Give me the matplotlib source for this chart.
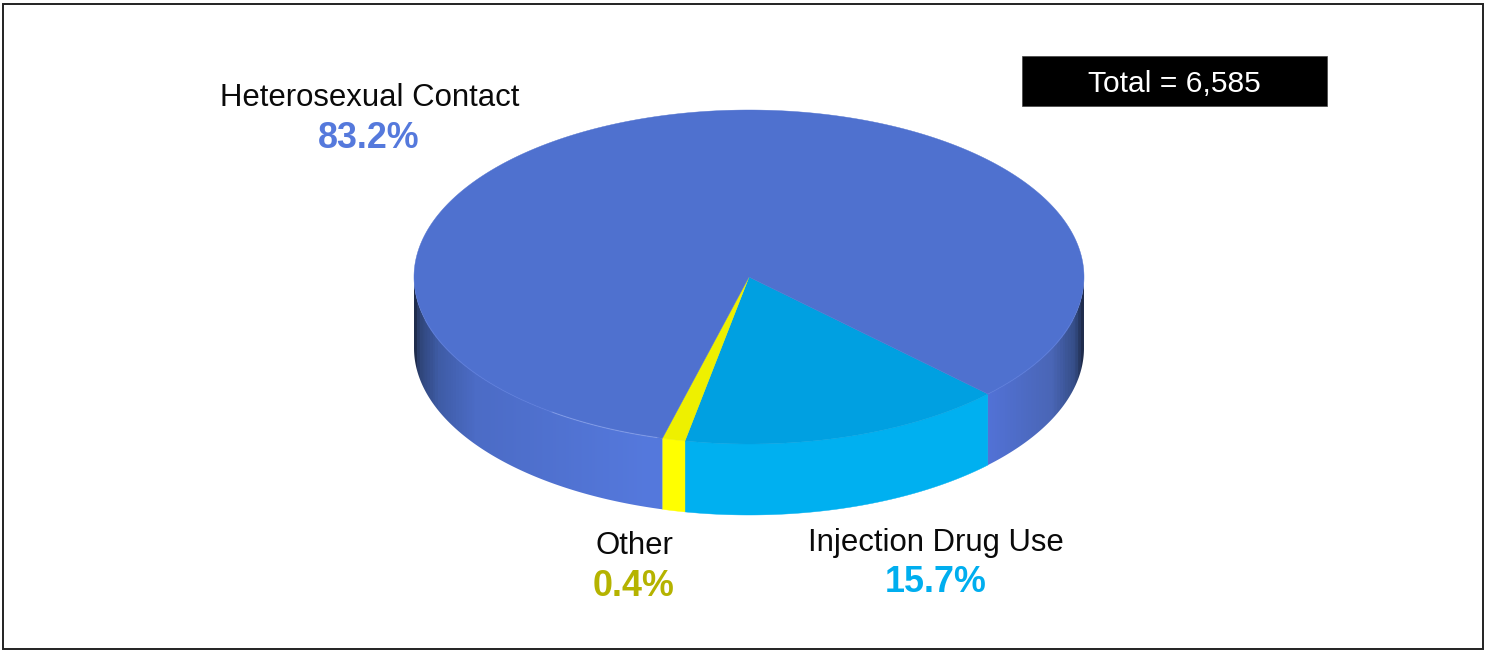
import numpy as np
import matplotlib
matplotlib.use("Agg")
import matplotlib.pyplot as plt
from matplotlib.colors import LinearSegmentedColormap
from matplotlib.patches import Polygon, Rectangle

plt.rcParams['font.family'] = ['Liberation Sans', 'DejaVu Sans']

# clockwise order, same as the slices in the picture
categories = ['Injection Drug Use', 'Other', 'Heterosexual Contact']
percent_labels = [15.7, 0.4, 83.2]
# the Other slice is drawn wider than its 0.4% label says, so angles come from these
drawn_share = [15.7, 1.1, 83.2]
total_cases = 6585

top_colors = ['#00A0E1', '#EEF000', '#4F71CF']
side_colors = ['#00B0F0', '#FFFF00', None]
label_colors = ['#00AEEF', '#B5B300', '#5579DC']

# pie is placed in pixel coords so the layout lines up with the reference
cx, cy = 749, 277
rx, ry = 335, 167
depth = 71
start_angle = -44.5


def rim(theta):
    return cx + rx * np.cos(theta), cy - ry * np.sin(theta)


fig = plt.figure(figsize=(14.85, 6.5), dpi=100)
ax = fig.add_axes([0, 0, 1, 1])
ax.set_xlim(0, 1485)
ax.set_ylim(650, 0)
ax.axis('off')

ax.add_patch(Rectangle((2.5, 3.5), 1480, 645.5, fill=False, ec='#222222', lw=1.4))

# dark at the outer edges, lighter toward the front of the disc
blue_side = LinearSegmentedColormap.from_list('blue_side', [
    (0.00, '#1F2C4C'), (0.006, '#2F4579'), (0.035, '#3F5CA6'), (0.09, '#4C6CC6'),
    (0.35, '#5579DD'), (0.86, '#5272D6'), (0.955, '#4A66B6'), (0.99, '#344C85'),
    (1.00, '#1F2C4C')])
ramp = np.linspace(0, 1, 700).reshape(1, -1)

edges = start_angle - np.cumsum([0] + drawn_share) * 3.6
for i in range(len(categories)):
    theta = np.radians(np.linspace(edges[i], edges[i + 1], 600))

    # side wall, only the part of the rim facing the viewer
    visible = np.sin(theta) <= 0
    runs = np.split(np.arange(len(theta)), np.where(np.diff(visible.astype(int)) != 0)[0] + 1)
    for run in runs:
        if not visible[run[0]]:
            continue
        x, y = rim(theta[run])
        pts = np.r_[np.c_[x, y], np.c_[x[::-1], y[::-1] + depth]]
        if side_colors[i] is None:
            wall = Polygon(pts, closed=True, fc='none', ec='none')
            ax.add_patch(wall)
            img = ax.imshow(ramp, cmap=blue_side, aspect='auto', zorder=2,
                            extent=(cx - rx, cx + rx, cy + ry + depth, cy - ry))
            img.set_clip_path(wall)
        else:
            ax.add_patch(Polygon(pts, closed=True, fc=side_colors[i], ec=side_colors[i],
                                 lw=0.3, zorder=2))

    # top face
    x, y = rim(theta)
    ax.add_patch(Polygon(np.r_[[[cx, cy]], np.c_[x, y]], closed=True, fc=top_colors[i],
                         ec=top_colors[i], lw=0.3, zorder=3))

ax.set_xlim(0, 1485)
ax.set_ylim(650, 0)

# thin highlight on the front rim
glint = np.radians(np.linspace(-106, -126, 60))
ax.plot(*rim(glint), color='#8FA8F0', lw=0.8, alpha=0.6, zorder=4)
soft = np.radians(np.linspace(-126, -165, 60))
ax.plot(*rim(soft), color='#5A7BDD', lw=1.0, alpha=0.5, zorder=4)
soft_r = np.radians(np.linspace(-44.5, -15, 60))
ax.plot(*rim(soft_r), color='#5A7BDD', lw=1.0, alpha=0.5, zorder=4)

# labels
name_pos = [(936, 543), (634, 546), (370, 98)]
pct_pos = [(936, 583), (634, 586), (369, 138)]
for i, name in enumerate(categories):
    ax.text(*name_pos[i], name, ha='center', va='center', fontsize=22.4, color='#0A0A0A')
    ax.text(*pct_pos[i], f'{percent_labels[i]}%', ha='center', va='center', fontsize=25.8,
            fontweight='bold', color=label_colors[i])

ax.add_patch(Rectangle((1022, 56), 304.5, 50, fc='black', ec='#444444', lw=0.5, zorder=3))
ax.text(1174, 84.5, f'Total = {total_cases:,}', ha='center', va='center', fontsize=21.6,
        color='white', zorder=4)

fig.savefig('out.png', dpi=100)
